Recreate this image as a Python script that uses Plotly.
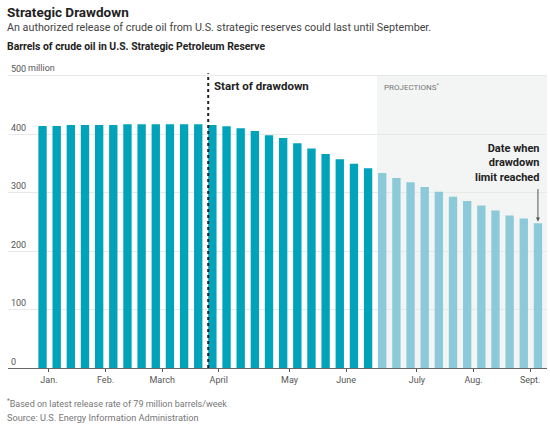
import plotly.graph_objects as go

# weekly SPR inventory, million barrels
actual = [414, 414, 415.5, 415.5, 415.5, 415.5, 417, 417, 417, 417, 417, 417,
          415.5, 413.5, 410, 405.5, 398, 393.5, 384.5, 375.5, 366, 357, 349.5, 341.5]
projected = [333.5, 325, 317.5, 309.5, 301.5, 293, 285.5, 278, 269.5, 261, 255.5, 247.5]

month_labels = ["Jan.", "Feb.", "March", "April", "May", "June", "July", "Aug.", "Sept."]
month_first_week = [0, 4, 8, 12, 17, 21, 26, 30, 34]
drawdown_start_week = 12

y_ticks = [0, 100, 200, 300, 400, 500]
y_tick_text = ["0", "100", "200", "300", "400", "500"]
y_unit = "million"

DARK = "#00a3b9"
LIGHT = "#8ccad9"
FONT = "Roboto"

W, H = 550, 429
M_TOP, M_BOT = 61, 61

x_actual = list(range(len(actual)))
x_proj = list(range(len(actual), len(actual) + len(projected)))
n_weeks = len(actual) + len(projected)

fig = go.Figure()
fig.add_trace(go.Bar(x=x_actual, y=actual, marker_color=DARK,
                     marker_line_width=0, width=0.59, hoverinfo="y"))
fig.add_trace(go.Bar(x=x_proj, y=projected, marker_color=LIGHT,
                     marker_line_width=0, width=0.59, hoverinfo="y"))

# projections shading
fig.add_shape(type="rect", xref="x", yref="y", x0=x_proj[0] - 0.37, x1=n_weeks - 0.36,
              y0=0, y1=500, fillcolor="#f3f4f4", line_width=0, layer="below")
# start of drawdown marker
fig.add_shape(type="line", xref="x", yref="y", x0=drawdown_start_week - 0.295,
              x1=drawdown_start_week - 0.295, y0=0, y1=504,
              line=dict(color="#222", width=2, dash="dot"))

fig.add_annotation(x=drawdown_start_week, y=482, xref="x", yref="y",
                   text="<b>Start of drawdown</b>", showarrow=False,
                   xanchor="left", font=dict(family=FONT, size=11.5, color="#222"))
fig.add_annotation(x=x_proj[0], y=481, xref="x", yref="y",
                   text="PROJECTIONS<sup>*</sup>", showarrow=False,
                   xanchor="left", font=dict(family=FONT, size=8, color="#777"))
fig.add_annotation(x=x_proj[-1] + 0.3, y=312, xref="x", yref="y",
                   text="<b>Date when<br>drawdown<br>limit reached</b>", showarrow=False,
                   xanchor="right", yanchor="bottom", align="right",
                   font=dict(family=FONT, size=11, color="#222"))
fig.add_annotation(x=x_proj[-1], y=projected[-1] + 3, xref="x", yref="y",
                   ax=0, ay=-34, text="", showarrow=True, arrowhead=2,
                   arrowsize=0.8, arrowwidth=1, arrowcolor="#555")
# unit after the top tick label
fig.add_annotation(x=0, y=y_ticks[-1], xref="paper", yref="y", text=y_unit,
                   showarrow=False, xanchor="left", yanchor="bottom", xshift=18, yshift=1,
                   font=dict(family=FONT, size=9, color="#555"))

# titles and footer, placed by pixel row
def py(px):
    return (H - M_BOT - px) / (H - M_TOP - M_BOT)

def note(text, row, size, color):
    fig.add_annotation(x=0, y=py(row), xref="paper", yref="paper", showarrow=False,
                       text=text, xanchor="left", yanchor="middle", xshift=-3,
                       font=dict(family=FONT, size=size, color=color))

note("<b>Strategic Drawdown</b>", 12, 13.5, "#222")
note("An authorized release of crude oil from U.S. strategic reserves could last until September.",
     28, 10.75, "#444")
note("<b>Barrels of crude oil in U.S. Strategic Petroleum Reserve</b>", 47, 10.4, "#222")
note("<sup>*</sup>Based on latest release rate of 79 million barrels/week", 403, 9, "#777")
note("Source: U.S. Energy Information Administration", 417, 9.2, "#777")

fig.update_layout(
    width=W, height=H,
    margin=dict(l=8, r=3, t=M_TOP, b=M_BOT),
    paper_bgcolor="white", plot_bgcolor="white",
    showlegend=False, barmode="overlay",
    font=dict(family=FONT, color="#555"),
    xaxis=dict(range=[-2.44, n_weeks - 0.36],
               tickvals=[w + 0.45 for w in month_first_week], ticktext=month_labels,
               ticks="outside", ticklen=3, tickcolor="#555",
               showline=True, linecolor="#666", linewidth=1,
               showgrid=False, zeroline=False, tickfont=dict(size=9, color="#555")),
    yaxis=dict(range=[0, 525], tickvals=y_ticks, ticktext=y_tick_text,
               ticklabelposition="inside top", showgrid=True, gridcolor="#e8e8e8",
               zeroline=False, tickfont=dict(size=9, color="#555")),
)

fig.write_html("out.html", config={"displayModeBar": False},
               post_script="document.body.style.margin='0';")
